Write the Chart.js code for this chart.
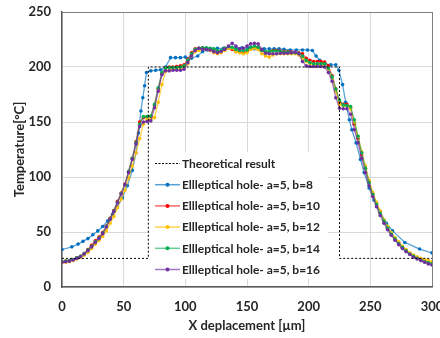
<!DOCTYPE html>
<html>
<head>
<meta charset="utf-8">
<script src="https://cdn.jsdelivr.net/npm/chart.js@4"></script>
<style>
  html, body { margin: 0; padding: 0; background: #fff; }
  #wrap { width: 440px; height: 338px; }
</style>
</head>
<body>
<div id="wrap"><canvas id="myChart"></canvas></div>
<script>
// theoretical step profile
var xTheory = [0, 70, 70, 225, 225, 300];
var yTheory = [26, 26, 200, 200, 26, 26];

// b=8 (sparser sampling)
var xBlue = [0, 8, 13, 17, 21, 25, 29, 33, 37, 41, 45, 49, 53, 57, 60, 62, 64, 65.5, 67, 68.5,
  72, 76, 80, 84, 88, 92, 96, 100, 105, 110, 114, 118, 122, 126, 131, 136, 141, 146, 151, 156,
  160, 164, 168, 172, 176, 180, 185, 190, 195, 199, 203, 206, 209, 213, 218, 222, 224.5, 227.5, 230, 233,
  235, 238.5, 242, 245, 249, 253, 258, 263, 268, 278, 290, 300];
var yBlue = [34, 36.5, 39, 41.5, 44, 47.5, 51, 55, 60, 66, 73, 81, 92, 106, 122, 140, 160, 172, 183, 195,
  196.5, 197, 197.5, 200, 208.5, 208.5, 208.5, 209, 208, 210, 214, 215.5, 216, 217, 217, 217.5, 217, 217.5, 217, 216.5,
  216, 216.5, 216.5, 216.5, 216.5, 216, 215.5, 215.5, 215.5, 215.5, 215, 210, 206, 203, 202, 202, 197, 184, 168, 152,
  143, 131, 116, 104, 90, 79, 68, 58, 51, 40.5, 34.5, 31];

// b=10..16 share the same x positions
var xDense = [0, 3, 6, 9, 12, 15, 18, 21, 24, 27, 30, 33, 36, 39, 42, 45, 48, 51, 54, 57,
  60, 63, 66, 69, 72, 75, 78, 81, 84, 87, 90, 93, 96, 99, 102, 105, 108, 111, 114, 117,
  120, 123, 126, 129, 132, 135, 138, 141, 144, 147, 150, 153, 156, 159, 162, 165, 168, 171, 174, 177,
  180, 183, 186, 189, 192, 195, 198, 201, 204, 207, 210, 213, 216, 219, 222, 225, 228, 231, 234, 237,
  240, 243, 246, 249, 252, 255, 258, 261, 264, 267, 270, 273, 276, 279, 282, 285, 288, 291, 294, 297, 300];

var yRed = [23, 23.5, 24, 25, 26.5, 28, 30.5, 34, 38, 42, 45.5, 49.5, 55.5, 62.5, 69.5, 78, 85.5, 93.5, 105, 117,
  132, 150, 154, 154.5, 155, 165, 180, 194, 199, 200, 200, 200.5, 201, 202, 207, 213, 216.5, 217, 217.5, 217,
  216.5, 216, 213, 214, 217, 218, 216, 214, 214, 213, 214, 217, 218, 218, 215, 213, 214, 215, 215, 214.5,
  214, 214, 213.5, 213, 213, 212, 208, 206, 205, 205, 205, 204.5, 201, 192, 180, 168, 166, 166, 163, 148,
  135, 120, 108, 95, 84, 76, 68, 60, 54, 48.5, 44, 40, 36, 33, 30.5, 28, 26.5, 25, 23.5, 22, 21];

var yYellow = [22, 22.5, 23, 24, 25.5, 27, 29, 31.5, 35, 39, 42.5, 46, 51, 58, 64, 72, 80, 88, 99, 110,
  122, 135, 148, 152, 152.5, 154, 168, 184, 196, 197.5, 198, 198, 198, 199, 203, 210, 214, 215, 216, 216,
  215, 213, 212, 213, 215, 217, 217, 214, 213, 212, 213, 216, 217, 216, 212, 210, 209, 211, 212, 212,
  212, 212, 212, 212, 211, 208, 205, 203, 202, 202, 202, 201, 198, 190, 178, 166, 165, 164.5, 162, 150,
  137, 123, 110, 97, 86, 77, 69, 61, 55, 49.5, 45, 41, 37, 34, 31, 29, 27.5, 26, 25, 24, 23];

var yGreen = [23, 23.5, 24, 25, 26.5, 28, 30.5, 33.5, 37, 41, 44.5, 49, 55, 62, 69, 77, 85, 93, 105, 117,
  131, 148, 155, 155, 155.5, 166, 181, 195, 199, 199.5, 199.5, 199.5, 200, 201, 206, 212, 216, 217, 217.5, 217.5,
  217, 216.5, 215, 215, 217, 218.5, 218, 216, 215, 215, 215.5, 218, 219, 218, 215, 214, 214, 214.5, 214.5, 214,
  213.5, 213.5, 213, 213, 212.5, 210, 206, 204, 203, 203, 203, 203, 199, 191, 180, 170, 165.5, 165, 164, 152,
  137, 122, 108, 95, 84, 75, 67, 60, 53.5, 48, 43.5, 39.5, 36, 33, 30, 28, 26, 24.5, 23, 22, 21];

var yPurple = [22.5, 23, 23.5, 24.5, 26, 27.5, 30, 33, 36.5, 40.5, 44, 48.5, 54.5, 61.5, 68.5, 76.5, 84.5, 93, 104, 116,
  130, 146, 150, 150.5, 151, 163, 178, 193, 196.5, 196.5, 197, 197, 197, 198, 204, 210, 215, 217, 216, 216,
  215.5, 214, 213, 214, 216, 219, 221.5, 219, 216.5, 217, 219, 221, 221.5, 221, 216, 212.5, 212, 212, 212, 212.5,
  212.5, 212.5, 213, 213.5, 212, 205, 201, 200.5, 200.5, 200.5, 200.5, 200, 195, 187, 172, 162.5, 162, 162, 157, 143,
  131, 117, 104, 92, 82, 73, 65, 58, 52, 47, 42.5, 38.5, 35, 32, 29.5, 27, 25.5, 24, 22.5, 21, 20];

var labels = [
  "Theoretical result",
  "Ellleptical hole- a=5, b=8",
  "Ellleptical hole- a=5, b=10",
  "Ellleptical hole- a=5, b=12",
  "Ellleptical hole- a=5, b=14",
  "Ellleptical hole- a=5, b=16"
];
var markColors = ["#000000", "#0070C0", "#FF0000", "#FFC000", "#00B050", "#7030A0"];
var lineColors = ["#000000", "rgba(0,112,192,0.65)", "rgba(255,0,0,0.6)", "rgba(255,192,0,0.7)", "rgba(0,176,80,0.6)", "rgba(112,48,160,0.65)"];

var xTicks = [0, 50, 100, 150, 200, 250, 300];
var yTicks = [0, 50, 100, 150, 200, 250];

function pts(xs, ys) {
  return xs.map(function (x, i) { return { x: x, y: ys[i] }; });
}

var series = [
  pts(xTheory, yTheory),
  pts(xBlue, yBlue),
  pts(xDense, yRed),
  pts(xDense, yYellow),
  pts(xDense, yGreen),
  pts(xDense, yPurple)
];

var datasets = series.map(function (d, i) {
  var theory = i === 0;
  return {
    label: labels[i],
    data: d,
    showLine: true,
    borderColor: lineColors[i],
    backgroundColor: markColors[i],
    borderWidth: theory ? 1 : 1.3,
    borderDash: theory ? [2, 2] : [],
    pointRadius: theory ? 0 : 1.8,
    pointBorderWidth: 0,
    pointBackgroundColor: markColors[i],
    tension: 0,
    order: theory ? 0 : 6 - i
  };
});

var FONT = "Lato, 'Liberation Sans', sans-serif";
var TXT = "#262626";

// legend drawn inside the plot, with a white box like the original
var insideLegend = {
  id: "insideLegend",
  afterDatasetsDraw: function (chart) {
    var ctx = chart.ctx;
    ctx.save();
    ctx.fillStyle = "#fff";
    ctx.fillRect(150, 152, 178, 127);
    ctx.font = "bold 12px " + FONT;
    var w = ctx.measureText(labels[2]).width;
    var s = Math.min(1, 138 / w);
    chart.data.datasets.forEach(function (ds, i) {
      var y = 163.5 + i * 21.2;
      ctx.beginPath();
      ctx.strokeStyle = ds.borderColor;
      ctx.lineWidth = i === 0 ? 1 : 1.5;
      ctx.setLineDash(i === 0 ? [2, 1.5] : []);
      ctx.moveTo(155, y);
      ctx.lineTo(180, y);
      ctx.stroke();
      ctx.setLineDash([]);
      if (i > 0) {
        ctx.beginPath();
        ctx.fillStyle = markColors[i];
        ctx.arc(167.5, y, 2, 0, Math.PI * 2);
        ctx.fill();
      }
      ctx.save();
      ctx.translate(182, y);
      ctx.scale(s, 1);
      ctx.fillStyle = TXT;
      ctx.textBaseline = "middle";
      ctx.fillText(ds.label, 0, 0.5);
      ctx.restore();
    });
    ctx.restore();
  }
};

function gridColor(max) {
  return function (c) {
    return c.tick && c.tick.value === max ? "#7f7f7f" : "#d9d9d9";
  };
}

var ctx = document.getElementById("myChart");
var myChart = new Chart(ctx, {
  type: "scatter",
  data: { datasets: datasets },
  plugins: [insideLegend],
  options: {
    responsive: true,
    maintainAspectRatio: false,
    animation: false,
    layout: { padding: { left: 0, right: 8, top: 12, bottom: 0 } },
    plugins: {
      legend: { display: false },
      tooltip: { enabled: false }
    },
    scales: {
      x: {
        type: "linear",
        min: 0,
        max: 300,
        afterBuildTicks: function (axis) {
          axis.ticks = xTicks.map(function (v) { return { value: v }; });
        },
        afterFit: function (axis) {
          axis.height = 51;
          axis.paddingLeft = 0;
          axis.paddingRight = 0;
        },
        grid: { color: gridColor(300), lineWidth: 1, drawTicks: false },
        border: { color: "#595959", width: 1.5 },
        ticks: { padding: 12, color: TXT, font: { family: FONT, size: 13, weight: "bold" }, maxRotation: 0 },
        title: {
          display: true,
          text: "X deplacement [µm]",
          color: TXT,
          font: { family: FONT, size: 13, weight: "bold" },
          padding: { top: 4, bottom: 4 }
        }
      },
      y: {
        min: 0,
        max: 250,
        afterBuildTicks: function (axis) {
          axis.ticks = yTicks.map(function (v) { return { value: v }; });
        },
        afterFit: function (axis) {
          axis.width = 62;
          axis.paddingTop = 0;
          axis.paddingBottom = 0;
        },
        grid: { color: gridColor(250), lineWidth: 1, drawTicks: false },
        border: { color: "#595959", width: 1.5 },
        ticks: { padding: 11, color: TXT, font: { family: FONT, size: 13, weight: "bold" } },
        title: {
          display: true,
          text: "Temperature[°C]",
          color: TXT,
          font: { family: FONT, size: 13, weight: "bold" },
          padding: { top: 12, bottom: 0 }
        }
      }
    }
  }
});
</script>
</body>
</html>
